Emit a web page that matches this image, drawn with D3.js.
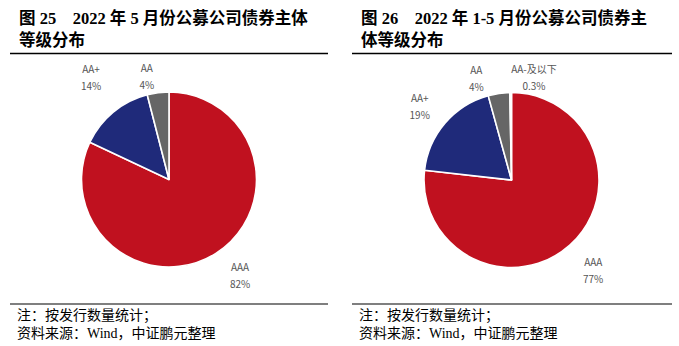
<!DOCTYPE html>
<html>
<head>
<meta charset="utf-8">
<script src="https://cdn.jsdelivr.net/npm/d3@7"></script>
<style>
  html, body { margin: 0; padding: 0; background: #ffffff; }
  svg { display: block; }
  .title { font-family: "Liberation Serif", "Noto Sans CJK SC", serif; font-weight: bold; font-size: 16.5px; fill: #000; }
  .note { font-family: "Liberation Serif", "Noto Sans CJK SC", serif; font-size: 14px; fill: #000; }
  .lbl { font-family: "Noto Sans CJK SC", "Noto Sans", sans-serif; font-size: 10px; fill: #555555; }
</style>
</head>
<body>
<svg id="chart" width="679" height="346"></svg>
<script>
// Figure 25: May 2022 public corporate bond issuers by rating
const categoriesMay = ["AAA", "AA+", "AA"];
const sharesMay = [82, 14, 4];

// Figure 26: Jan–May 2022 public corporate bond issuers by rating
const categoriesYtd = ["AAA", "AA+", "AA", "AA-及以下"];
const sharesYtd = [77, 19, 4, 0.3];

const titlesMay = ["图 25　2022 年 5 月份公募公司债券主体", "等级分布"];
const titlesYtd = ["图 26　2022 年 1-5 月份公募公司债券主", "体等级分布"];
const noteLines = ["注：按发行数量统计；", "资料来源：Wind，中证鹏元整理"];

const ratingColors = d3.scaleOrdinal()
  .domain(["AAA", "AA+", "AA", "AA-及以下"])
  .range(["#C0111F", "#1F2A7A", "#666666", "#D9D9D9"]);

// label placement: distance from centre (in radii) and small angular nudge (degrees)
const labelPlacementMay = { "AAA": [1.37, -4], "AA+": [1.46, 2], "AA": [1.2, -5] };
const labelPlacementYtd = { "AAA": [1.4, 0], "AA+": [1.34, -2], "AA": [1.22, -11], "AA-及以下": [1.19, 13] };

const svg = d3.select("#chart");

function panel(opts) {
  const g = svg.append("g").attr("transform", `translate(${opts.x0},0)`);

  // title
  g.append("text").attr("class", "title")
    .selectAll("tspan").data(opts.titles).join("tspan")
    .attr("x", opts.textX).attr("y", (d, i) => 24 + i * 22)
    .text(d => d);

  g.append("line").attr("x1", opts.ruleX1).attr("x2", opts.ruleX2)
    .attr("y1", 53.5).attr("y2", 53.5).attr("stroke", "#000").attr("stroke-width", 1.3);

  // pie
  const r = 87.5;
  const pie = d3.pie().sort(null).value(d => d.v).startAngle(0).endAngle(2 * Math.PI);
  const rows = opts.cats.map((c, i) => ({ c, v: opts.vals[i] }));
  const arcs = pie(rows);
  const arc = d3.arc().innerRadius(0).outerRadius(r);

  const pg = g.append("g").attr("transform", `translate(${opts.cx},${opts.cy})`);
  pg.selectAll("path").data(arcs).join("path")
    .attr("d", arc)
    .attr("fill", d => ratingColors(d.data.c))
    .attr("stroke", "#fff").attr("stroke-width", 1.6).attr("stroke-linejoin", "round");

  // outside labels: category and share
  const lab = pg.selectAll("g.l").data(arcs).join("g").attr("class", "l")
    .attr("transform", d => {
      const [k, nudge] = opts.place[d.data.c];
      const a = (d.startAngle + d.endAngle) / 2 + nudge * Math.PI / 180;
      const R = k * r;
      const p = d3.arc().innerRadius(R).outerRadius(R).centroid({ startAngle: a, endAngle: a });
      return `translate(${p[0]},${p[1]})`;
    });
  lab.append("text").attr("class", "lbl").attr("text-anchor", "middle")
    .attr("y", -5).text(d => d.data.c);
  lab.append("text").attr("class", "lbl").attr("text-anchor", "middle")
    .attr("y", 12).text(d => d.data.v + "%");

  // footer
  g.append("line").attr("x1", opts.ruleX1).attr("x2", opts.ruleX2)
    .attr("y1", 304).attr("y2", 304).attr("stroke", "#000").attr("stroke-width", 1.1);
  g.append("text").attr("class", "note")
    .selectAll("tspan").data(noteLines).join("tspan")
    .attr("x", opts.textX - 2).attr("y", (d, i) => 320 + i * 18)
    .text(d => d);
}

panel({ x0: 0, titles: titlesMay, textX: 19, ruleX1: 10, ruleX2: 328,
        cx: 169, cy: 179.5, cats: categoriesMay, vals: sharesMay, place: labelPlacementMay });
panel({ x0: 340, titles: titlesYtd, textX: 21, ruleX1: 12, ruleX2: 332,
        cx: 171.5, cy: 180, cats: categoriesYtd, vals: sharesYtd, place: labelPlacementYtd });
</script>
</body>
</html>
